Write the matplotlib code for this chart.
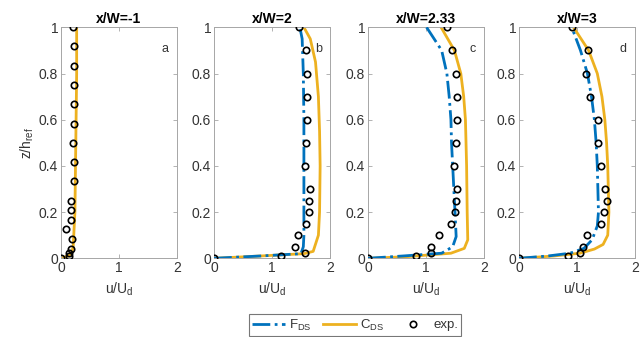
import matplotlib
matplotlib.use("Agg")
import matplotlib.pyplot as plt
from matplotlib.lines import Line2D

plt.rcParams['font.family'] = ['Liberation Sans', 'DejaVu Sans']
plt.rcParams['mathtext.fontset'] = 'custom'
plt.rcParams['mathtext.rm'] = 'Liberation Sans'
plt.rcParams['mathtext.it'] = 'Liberation Sans'

titles = ["x/W=-1", "x/W=2", "x/W=2.33", "x/W=3"]
letters = ["a", "b", "c", "d"]

# experimental points (u/Ud, z/href)
exp_a_u = [0.20, 0.23, 0.22, 0.22, 0.22, 0.22, 0.21, 0.22, 0.22, 0.18, 0.17, 0.18, 0.09, 0.19, 0.18, 0.14, 0.13, 0.0]
exp_a_z = [1.0, 0.917, 0.833, 0.75, 0.667, 0.583, 0.5, 0.417, 0.333, 0.25, 0.208, 0.167, 0.125, 0.083, 0.042, 0.021, 0.01, 0.0]
exp_b_u = [1.46, 1.59, 1.60, 1.61, 1.61, 1.59, 1.57, 1.66, 1.64, 1.64, 1.59, 1.44, 1.40, 1.57, 1.15, 0.0]
exp_b_z = [1.0, 0.9, 0.8, 0.7, 0.6, 0.5, 0.4, 0.3, 0.25, 0.2, 0.15, 0.1, 0.05, 0.025, 0.01, 0.0]
exp_c_u = [1.36, 1.44, 1.52, 1.53, 1.53, 1.51, 1.49, 1.53, 1.51, 1.50, 1.43, 1.22, 1.08, 1.09, 0.83, 0.0]
exp_c_z = [1.0, 0.9, 0.8, 0.7, 0.6, 0.5, 0.4, 0.3, 0.25, 0.2, 0.15, 0.1, 0.05, 0.022, 0.01, 0.0]
exp_d_u = [0.91, 1.19, 1.16, 1.22, 1.37, 1.37, 1.42, 1.49, 1.51, 1.47, 1.42, 1.17, 1.10, 1.05, 0.85, 0.0]
exp_d_z = [1.0, 0.9, 0.8, 0.7, 0.6, 0.5, 0.4, 0.3, 0.25, 0.2, 0.15, 0.1, 0.05, 0.022, 0.01, 0.0]

# F_DS profiles
fds_b_u = [0.0, 0.8, 1.50, 1.54, 1.55, 1.55, 1.55, 1.55, 1.54, 1.52, 1.48]
fds_b_z = [0.0, 0.01, 0.02, 0.05, 0.1, 0.2, 0.4, 0.6, 0.8, 0.95, 1.0]
fds_c_u = [0.0, 0.6, 1.27, 1.46, 1.52, 1.50, 1.48, 1.46, 1.44, 1.43, 1.40, 1.36, 1.27, 1.01]
fds_c_z = [0.0, 0.01, 0.022, 0.05, 0.094, 0.2, 0.3, 0.4, 0.5, 0.6, 0.7, 0.8, 0.9, 1.0]
fds_d_u = [0.0, 0.5, 0.88, 1.12, 1.26, 1.35, 1.37, 1.36, 1.35, 1.33, 1.30, 1.25, 1.18, 1.06, 0.91]
fds_d_z = [0.0, 0.01, 0.022, 0.043, 0.08, 0.14, 0.2, 0.3, 0.4, 0.5, 0.6, 0.7, 0.8, 0.9, 1.0]

# C_DS profiles
cds_a_u = [0.0, 0.12, 0.18, 0.21, 0.22, 0.24, 0.25, 0.26, 0.27, 0.27]
cds_a_z = [0.0, 0.01, 0.02, 0.05, 0.1, 0.2, 0.4, 0.6, 0.8, 1.0]
cds_b_u = [0.0, 0.8, 1.55, 1.71, 1.80, 1.82, 1.83, 1.82, 1.80, 1.75, 1.66, 1.55]
cds_b_z = [0.0, 0.01, 0.02, 0.03, 0.1, 0.2, 0.4, 0.55, 0.7, 0.85, 0.95, 1.0]
cds_c_u = [0.0, 0.67, 1.43, 1.66, 1.72, 1.71, 1.70, 1.69, 1.68, 1.65, 1.60, 1.49, 1.26]
cds_c_z = [0.0, 0.007, 0.022, 0.043, 0.08, 0.2, 0.4, 0.5, 0.6, 0.7, 0.8, 0.9, 1.0]
cds_d_u = [0.0, 0.6, 1.05, 1.30, 1.45, 1.53, 1.55, 1.54, 1.53, 1.51, 1.48, 1.43, 1.35, 1.20, 0.94]
cds_d_z = [0.0, 0.01, 0.022, 0.04, 0.06, 0.1, 0.2, 0.3, 0.4, 0.5, 0.6, 0.7, 0.8, 0.9, 1.0]

exp_u = [exp_a_u, exp_b_u, exp_c_u, exp_d_u]
exp_z = [exp_a_z, exp_b_z, exp_c_z, exp_d_z]
fds_u = [None, fds_b_u, fds_c_u, fds_d_u]
fds_z = [None, fds_b_z, fds_c_z, fds_d_z]
cds_u = [cds_a_u, cds_b_u, cds_c_u, cds_d_u]
cds_z = [cds_a_z, cds_b_z, cds_c_z, cds_d_z]

BLUE = '#0072BD'
YEL = '#EDB120'
SPINE = '#a6a6a6'
TXT = '#333333'

fig = plt.figure(figsize=(6.42, 3.37), dpi=100)
lefts_px = [61, 214, 368, 519]
W, H = 642.0, 337.0
for i in range(4):
    ax = fig.add_axes([lefts_px[i] / W, 1 - 258.3 / H, 116 / W, (258.3 - 27.3) / H])
    ax.plot(cds_u[i], cds_z[i], color=YEL, lw=2.0, zorder=2)
    if fds_u[i] is not None:
        ax.plot(fds_u[i], fds_z[i], color=BLUE, lw=2.0, ls='-.', zorder=3)
    ax.plot(exp_u[i], exp_z[i], ls='none', marker='o', ms=4.6, mfc='none',
            mec='black', mew=1.2, zorder=4)
    ax.set_xlim(0, 2)
    ax.set_ylim(0, 1)
    ax.set_xticks([0, 1, 2])
    ax.set_yticks([0, 0.2, 0.4, 0.6, 0.8, 1.0])
    ax.set_yticklabels(['0', '0.2', '0.4', '0.6', '0.8', '1'])
    ax.tick_params(direction='in', top=True, right=True, length=3, width=0.6,
                   color=SPINE, labelcolor=TXT, labelsize=10, pad=2)
    for s in ax.spines.values():
        s.set_color(SPINE)
        s.set_linewidth(0.7)
    ax.set_title(titles[i], fontsize=10, fontweight='bold', pad=3, color='black')
    ax.text(0.93, 0.93, letters[i], transform=ax.transAxes, ha='right', va='top',
            fontsize=9, color=TXT)
    ax.set_xlabel('u/U$_\\mathrm{d}$', fontsize=10, color=TXT, labelpad=4)
    if i == 0:
        ax.set_ylabel('z/h$_\\mathrm{ref}$', fontsize=10, color=TXT, labelpad=2)

handles = [Line2D([], [], color=BLUE, lw=2.0, ls='-.'),
           Line2D([], [], color=YEL, lw=2.0),
           Line2D([], [], ls='none', marker='o', ms=4.6, mfc='none', mec='black', mew=1.2)]
labels = ['F$_\\mathrm{DS}$', 'C$_\\mathrm{DS}$', 'exp.']
leg = fig.legend(handles, labels, loc='center', bbox_to_anchor=(355 / W, 1 - 325 / H),
                 ncol=3, fontsize=9.5, frameon=True, fancybox=False, handlelength=2.5,
                 columnspacing=0.9, handletextpad=0.3, borderpad=0.25, labelcolor=TXT)
leg.get_frame().set_edgecolor('#555555')
leg.get_frame().set_linewidth(0.8)

fig.savefig('out.png', dpi=100, facecolor='white')
